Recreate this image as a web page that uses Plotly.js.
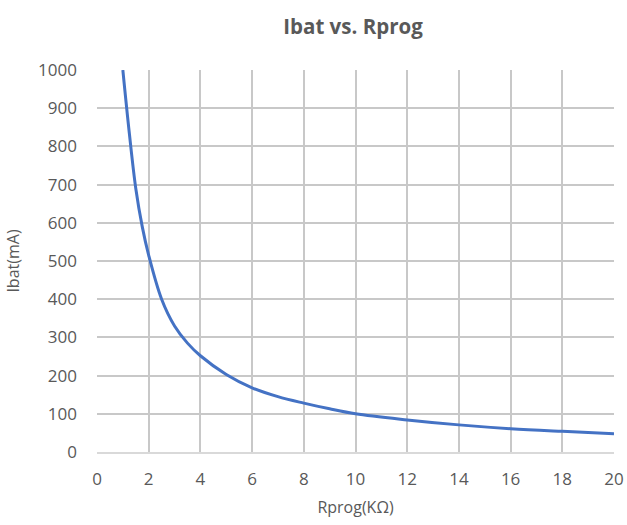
<!DOCTYPE html>
<html>
<head>
<meta charset="utf-8">
<script src="https://cdn.plot.ly/plotly-3.0.1.min.js"></script>
<style>html,body{margin:0;padding:0;background:#fff;}#chart{width:627px;height:525px;}</style>
</head>
<body>
<div id="chart"></div>
<script>
const rprog = [1, 1.25, 1.5, 1.75, 2, 2.5, 3, 3.5, 4, 5, 6, 7, 8, 9, 10, 12, 14, 16, 18, 20];
const ibat = [1000, 835, 690, 590, 515, 400, 330, 285, 252, 203, 168, 145, 128, 113, 100, 84, 71, 61, 54, 48];
const xTicks = [0, 2, 4, 6, 8, 10, 12, 14, 16, 18, 20];
const yTicks = [0, 100, 200, 300, 400, 500, 600, 700, 800, 900, 1000];

const fontFam = "Open Sans, Liberation Sans, sans-serif";
Plotly.newPlot('chart', [{
  x: rprog, y: ibat, type: 'scatter', mode: 'lines',
  line: {color: '#4472C4', width: 3, shape: 'spline', smoothing: 1},
  hoverinfo: 'none'
}], {
  width: 627, height: 525,
  margin: {l: 97, r: 13, t: 70, b: 73},
  paper_bgcolor: '#fff', plot_bgcolor: '#fff',
  showlegend: false,
  title: {text: '<b>Ibat vs. Rprog</b>', x: 0.563, xanchor: 'center', y: 0.948, yanchor: 'middle',
          font: {family: fontFam, size: 20.5, color: '#595959'}},
  xaxis: {range: [0, 20], tickvals: xTicks, ticktext: xTicks.map(String),
          showgrid: true, gridcolor: '#c8c8c8', gridwidth: 2, zeroline: false,
          showline: true, linecolor: '#d9d9d9', linewidth: 2,
          ticks: '', ticklabelstandoff: 11,
          tickfont: {family: fontFam, size: 17, color: '#595959'},
          title: {text: 'Rprog(KΩ)', standoff: 12, font: {family: fontFam, size: 16, color: '#595959'}}},
  yaxis: {range: [0, 1000], tickvals: yTicks, ticktext: yTicks.map(String),
          showgrid: true, gridcolor: '#c8c8c8', gridwidth: 2, zeroline: false,
          showline: false, ticks: '', ticklabelstandoff: 19,
          tickfont: {family: fontFam, size: 17, color: '#595959'},
          title: {text: 'Ibat(mA)', standoff: 14, font: {family: fontFam, size: 16, color: '#595959'}}}
}, {staticPlot: true});
</script>
</body>
</html>
